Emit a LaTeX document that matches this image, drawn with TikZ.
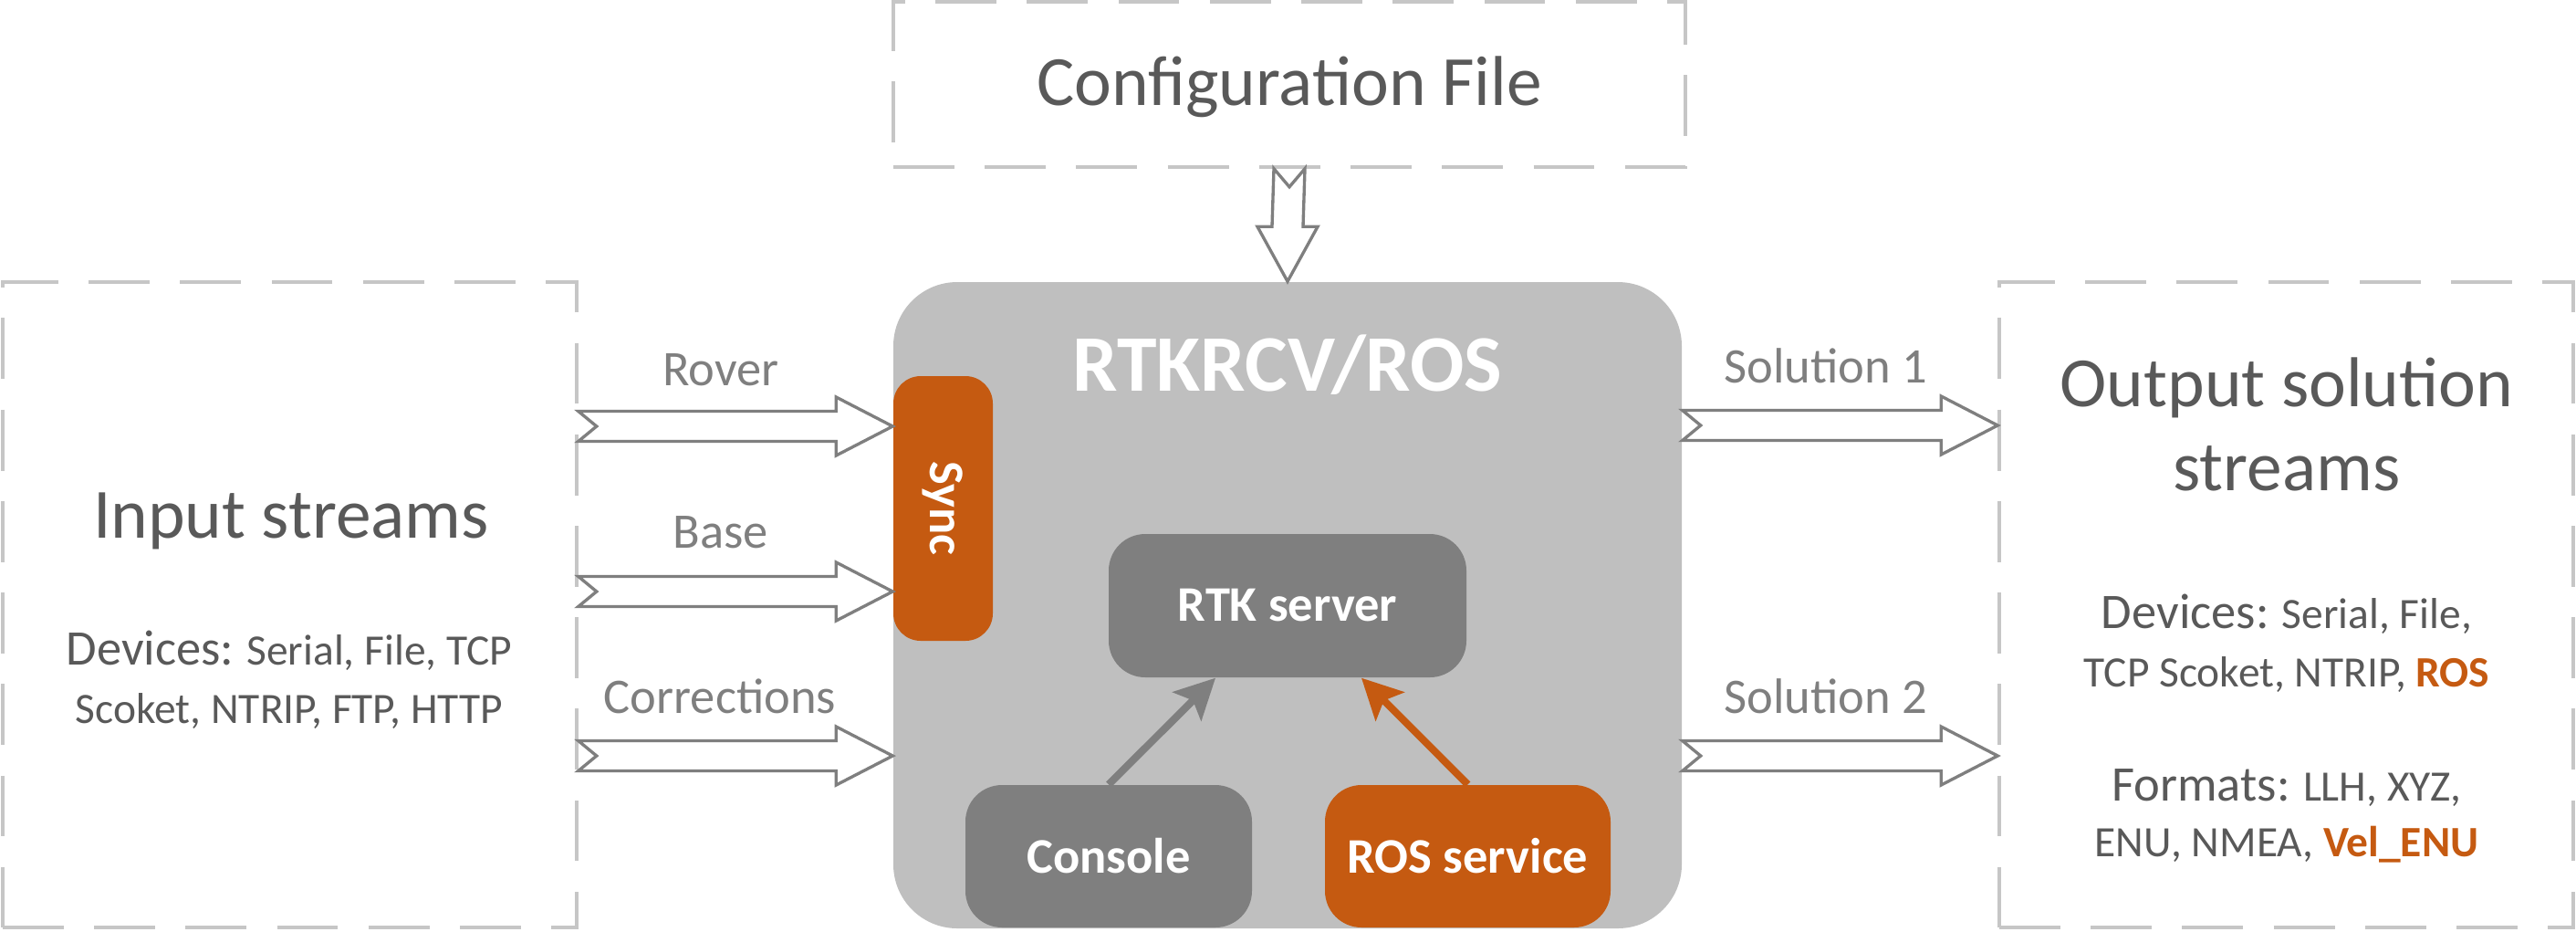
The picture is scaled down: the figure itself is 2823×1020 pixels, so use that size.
\documentclass[tikz,border=0pt]{standalone}
\usepackage{fontspec}
\setmainfont{Carlito}
\usetikzlibrary{calc,arrows.meta,fit}
\definecolor{boxgray}{HTML}{BFBFBF}
\definecolor{darkbox}{HTML}{7F7F7F}
\definecolor{rosorange}{HTML}{C55A11}
\definecolor{txtgray}{HTML}{595959}
\definecolor{lblgray}{HTML}{7F7F7F}
\definecolor{dashgray}{HTML}{C6C6C6}
\newcommand{\fsz}[1]{\fontsize{#1}{#1}\selectfont}
\newcommand{\harrow}[2]{\draw[blockarrow] ($(#1)+(0,-16.5)$) -- ($(#2)+(-62,-16.5)$) -- ($(#2)+(-62,-32)$) -- (#2) -- ($(#2)+(-62,32)$) -- ($(#2)+(-62,16.5)$) -- ($(#1)+(0,16.5)$) -- ($(#1)+(20,0)$) -- cycle;}
\newcommand{\varrow}[2]{\draw[blockarrow] ($(#1)+(-17,0)$) -- ($(#2)+(-17,-60)$) -- ($(#2)+(-33,-60)$) -- (#2) -- ($(#2)+(33,-60)$) -- ($(#2)+(17,-60)$) -- ($(#1)+(17,0)$) -- ($(#1)+(0,20)$) -- cycle;}
\begin{document}
\begin{tikzpicture}[x=0.01cm,y=-0.01cm,
  dashbox/.style={draw=dashgray, line width=1pt, dash pattern=on 19pt off 9.5pt, inner sep=0pt},
  blockarrow/.style={draw=lblgray, line width=0.95pt, fill=white, line join=miter},
  thinarr/.style={line width=2.3pt, -{Stealth[length=12.5pt,width=12.5pt,inset=2.6pt]}},
  bigtxt/.style={text=txtgray, font=\fsz{22}, inner sep=0pt, anchor=base},
  smalltxt/.style={text=txtgray, font=\fsz{13.5}, inner sep=0pt, anchor=base},
  lbl/.style={text=lblgray, font=\fsz{15.5}, inner sep=0pt, anchor=base},
  boxtxt/.style={text=white, font=\bfseries\fsz{15.5}, inner sep=0pt},
  solidbox/.style={inner sep=0pt, draw=none}
]
\useasboundingbox (0,0) rectangle (2823,1020);

% dashed boxes
\node[dashbox, fit={(979,2) (1847,183)}] (cfg) {};
\node[dashbox, fit={(3,309) (632,1016)}] (inbox) {};
\node[dashbox, fit={(2191,309) (2820,1016)}] (outbox) {};

% main box
\node[solidbox, fill=boxgray, rounded corners=0.7cm, fit={(979,309) (1843,1017)}] (main) {};
\node[solidbox, fill=rosorange, rounded corners=0.3cm, fit={(979,412) (1088,702)}] (sync) {};
\node[solidbox, fill=darkbox, rounded corners=0.4cm, fit={(1215,585) (1607,742)}] (rtk) {};
\node[solidbox, fill=darkbox, rounded corners=0.4cm, fit={(1058,860) (1372,1016)}] (console) {};
\node[solidbox, fill=rosorange, rounded corners=0.4cm, fit={(1452,860) (1765,1016)}] (ros) {};

\node[text=white, font=\bfseries\fsz{25}, inner sep=0pt, anchor=base] (title) at (1411,428) {RTKRCV/ROS};
\node[boxtxt, rotate=-90] (synct) at (sync.center) {Sync};
\node[boxtxt] (rtkt) at (rtk.center) {RTK server};
\node[boxtxt] (consolet) at (console.center) {Console};
\node[boxtxt] (rost) at (ros.center) {ROS service};

% texts
\node[bigtxt] (cfgt) at (1413,115) {Configuration File};
\node[bigtxt] (int) at (319,589) {Input streams};
\node[smalltxt] (in1) at (317,728) {{\fsz{15.5}Devices:} Serial, File, TCP};
\node[smalltxt] (in2) at (317,792) {Scoket, NTRIP, FTP, HTTP};
\node[bigtxt] (outt1) at (2506,445) {Output solution};
\node[bigtxt] (outt2) at (2506,537) {streams};
\node[smalltxt] (out1) at (2506,688) {{\fsz{15.5}Devices:} Serial, File,};
\node[smalltxt] (out2) at (2506,752) {TCP Scoket, NTRIP, {\color{rosorange}\bfseries ROS}};
\node[smalltxt] (out3) at (2506,877) {{\fsz{15.5}Formats:} LLH, XYZ,};
\node[smalltxt] (out4) at (2506,938) {ENU, NMEA, {\color{rosorange}\bfseries Vel\_ENU}};

\node[lbl] (lrover) at (790,422) {Rover};
\node[lbl] (lbase) at (790,600) {Base};
\node[lbl] (lcorr) at (789,781) {Corrections};
\node[lbl] (lsol1) at (2001,419) {Solution 1};
\node[lbl] (lsol2) at (2001,781) {Solution 2};

% helper coordinates
\coordinate (yrov) at (0,467);
\coordinate (ybase) at (0,648);
\coordinate (ycorr) at (0,828);
\coordinate (ysol1) at (0,466);
\coordinate (ysol2) at (0,828);
\coordinate (rovs) at (inbox.east |- yrov);
\coordinate (rove) at (sync.west |- yrov);
\coordinate (bases) at (inbox.east |- ybase);
\coordinate (basee) at (sync.west |- ybase);
\coordinate (corrs) at (inbox.east |- ycorr);
\coordinate (corre) at (main.west |- ycorr);
\coordinate (sol1s) at (main.east |- ysol1);
\coordinate (sol1e) at (outbox.west |- ysol1);
\coordinate (sol2s) at (main.east |- ysol2);
\coordinate (sol2e) at (outbox.west |- ysol2);
\coordinate (cfgs) at (cfg.south);
\coordinate (cfge) at (main.north);

\harrow{rovs}{rove}
\harrow{bases}{basee}
\harrow{corrs}{corre}
\harrow{sol1s}{sol1e}
\harrow{sol2s}{sol2e}
\varrow{cfgs}{cfge}

\draw[thinarr, darkbox] (console.north) -- ($(rtk.south)+(-79,0)$);
\draw[thinarr, rosorange] (ros.north) -- ($(rtk.south)+(81,0)$);
\end{tikzpicture}
\end{document}
